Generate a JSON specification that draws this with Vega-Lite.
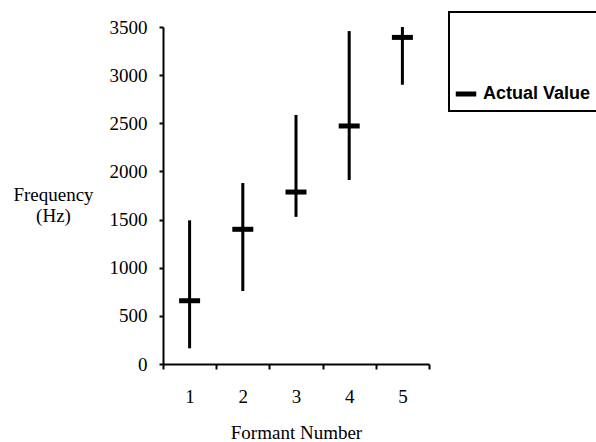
{
  "$schema": "https://vega.github.io/schema/vega-lite/v6.json",
  "width": 266,
  "height": 337,
  "autosize": {"type": "none"},
  "padding": {"left": 163, "top": 27, "right": 167, "bottom": 78},
  "background": "white",
  "data": {
    "values": [
      {"formant": 1, "low": 163, "high": 1492, "actual": 657},
      {"formant": 2, "low": 758, "high": 1880, "actual": 1399},
      {"formant": 3, "low": 1528, "high": 2586, "actual": 1786},
      {"formant": 4, "low": 1911, "high": 3458, "actual": 2472},
      {"formant": 5, "low": 2900, "high": 3510, "actual": 3392}
    ]
  },
  "encoding": {
    "x": {
      "field": "formant",
      "type": "ordinal",
      "scale": {"paddingInner": 0, "paddingOuter": 0},
      "axis": {
        "title": "Formant Number",
        "labelAngle": 0,
        "tickBand": "extent",
        "tickSize": 5,
        "labelPadding": 27,
        "labelBaseline": "middle",
        "titleBaseline": "middle",
        "titleY": 68,
        "titleX": 133
      }
    }
  },
  "layer": [
    {
      "mark": {"type": "rule", "color": "black", "strokeWidth": 3},
      "encoding": {
        "y": {
          "field": "low",
          "type": "quantitative",
          "scale": {"domain": [0, 3500], "nice": false, "clamp": true},
          "axis": {
            "title": ["Frequency", "(Hz)"],
            "titleAngle": 0,
            "titleAlign": "center",
            "titleBaseline": "middle",
            "titleLineHeight": 21,
            "titleX": -110,
            "titleY": 167,
            "values": [0, 500, 1000, 1500, 2000, 2500, 3000, 3500],
            "format": "d",
            "tickSize": 4,
            "labelPadding": 12,
            "grid": false
          }
        },
        "y2": {"field": "high"}
      }
    },
    {
      "mark": {"type": "tick", "thickness": 5, "size": 21, "opacity": 1},
      "encoding": {
        "y": {"field": "actual", "type": "quantitative"},
        "color": {
          "datum": "Actual Value",
          "type": "nominal",
          "scale": {"range": ["black"]},
          "legend": {
            "orient": "none",
            "legendX": 286,
            "legendY": -15,
            "title": "Actual Value",
            "titleColor": "white",
            "titleFont": "Liberation Sans",
            "titleFontWeight": "bold",
            "titleFontSize": 22,
            "titleLimit": 400,
            "titlePadding": 40,
            "symbolType": "stroke",
            "symbolSize": 420,
            "symbolStrokeWidth": 5,
            "symbolStrokeColor": "black",
            "symbolOpacity": 1,
            "symbolOffset": -3,
            "labelFont": "Liberation Sans",
            "labelFontWeight": "bold",
            "labelFontSize": 18,
            "labelColor": "black",
            "labelOffset": 4,
            "labelLimit": 300,
            "padding": 7,
            "strokeColor": "black"
          }
        }
      }
    }
  ],
  "config": {
    "view": {"stroke": null},
    "legend": {"strokeWidth": 2},
    "axis": {
      "domainColor": "black",
      "domainWidth": 2,
      "tickColor": "black",
      "tickWidth": 2,
      "labelFont": "Liberation Serif",
      "labelFontSize": 19,
      "labelColor": "black",
      "titleFont": "Liberation Serif",
      "titleFontSize": 19,
      "titleFontWeight": "normal",
      "titleColor": "black",
      "grid": false
    }
  }
}
